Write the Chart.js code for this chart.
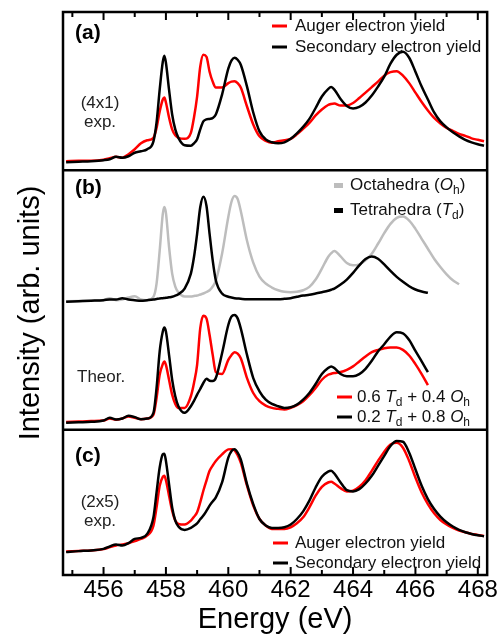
<!DOCTYPE html>
<html>
<head>
<meta charset="utf-8">
<script src="https://cdn.jsdelivr.net/npm/chart.js@4.4.1/dist/chart.umd.min.js"></script>
<style>
  html, body { margin: 0; padding: 0; background: #fff; }
</style>
</head>
<body>
<canvas id="spectra" width="501" height="638"></canvas>
<script>
// photon energy grid (eV), shared by every curve
const energy = [
  454.8, 455.2, 455.6, 456.0, 456.2, 456.4, 456.6, 456.8, 457.0, 457.2,
  457.4, 457.6, 457.7, 457.8, 457.9, 457.95, 458.0, 458.1, 458.2, 458.3,
  458.4, 458.6, 458.8, 458.9, 459.0, 459.1, 459.2, 459.3, 459.4, 459.5,
  459.6, 459.8, 460.0, 460.1, 460.2, 460.3, 460.4, 460.6, 460.8, 461.0,
  461.2, 461.4, 461.6, 461.8, 462.0, 462.2, 462.4, 462.6, 462.8, 463.0,
  463.2, 463.3, 463.4, 463.6, 463.8, 464.0, 464.2, 464.4, 464.6, 464.8,
  465.0, 465.2, 465.4, 465.6, 465.8, 466.0, 466.2, 466.4, 466.6, 466.8,
  467.0, 467.2, 467.4, 467.6, 467.8, 468.0, 468.2
];

// (a) (4x1) experiment
const aSecondary = [
  7, 7.5, 8, 9, 10, 12.5, 11.5, 13, 16.5, 18,
  20, 28, 47, 80, 108, 114, 107, 80, 55, 40,
  31.5, 24, 23.5, 26, 30, 40, 48, 50, 50.5, 51.5,
  55, 75, 101, 109, 112, 110, 105, 83, 57, 38,
  30, 27, 26, 27, 30.5, 36, 42.5, 50.5, 61.5, 73,
  80.5, 82.5, 80, 70.5, 63.5, 61, 62.5, 67, 74, 83,
  93, 106, 115, 118, 112, 98, 83, 70, 57, 48,
  42, 37, 33, 29.5, 27, 25, 23.5
];
const aAuger = [
  8, 8.5, 8.5, 9.5, 11, 12.5, 11.5, 15, 20, 26,
  29, 31.5, 41.5, 58, 70, 72, 67, 52, 40, 34,
  31.5, 30.5, 36.5, 52, 73, 103, 115, 113, 98, 88,
  82, 82, 86.5, 88, 88.5, 86.5, 82, 63, 45, 33,
  28.5, 26.5, 28, 29, 30.5, 35, 40.5, 46.5, 54, 60,
  64.5, 65.5, 66, 64, 64, 66.5, 71.5, 77, 82.5, 88,
  94, 97.5, 98.5, 94, 86.5, 77, 67.5, 59, 51.5, 46,
  41.5, 38.5, 35.5, 33.5, 31, 29.5, 28
];

// (b) theory: single sites (upper) and mixtures (lower)
const bOctahedra = [
  129.3, 129.5, 129.7, 130.5, 132.3, 130.3, 131, 133, 134.3, 131,
  130.3, 133.7, 147, 180, 217, 224, 218, 184, 157, 144,
  138, 134, 134, 134.5, 135, 136, 137, 138.5, 140.3, 144,
  150, 177, 214, 229, 235, 232, 220, 190, 168, 154,
  147, 143, 140.3, 138.7, 138.3, 138.7, 140.3, 143.7, 151, 162,
  173.7, 177.5, 179.7, 174.3, 167.7, 165.3, 166.3, 170.3, 177, 187,
  197.7, 207, 213, 214.3, 210.3, 202, 192, 182, 172, 163.7,
  156.3, 150.3, 146.3
];
const bTetrahedra = [
  128.7, 129.2, 129.7, 130.3, 131, 131, 132.3, 131, 130.3, 129.7,
  130.3, 131, 131.5, 132, 132.3, 132.5, 132.7, 133.2, 133.7, 134.8,
  136.3, 142, 157, 173.7, 197, 223.7, 234.3, 225.3, 197, 170.3,
  150.3, 137, 133.7, 133, 132.3, 132, 131.7, 131.3, 131.3, 131.3,
  131.3, 131.3, 131.3, 131.7, 132.3, 133.7, 135, 135.7, 137, 138.3,
  139.7, 140.8, 142, 146, 151, 157.7, 165.3, 171.7, 174.3, 172,
  166.3, 159.7, 153.7, 148.7, 144.3, 141, 139, 137.7
];
const bMix28 = [
  7, 7.5, 8, 9.3, 12, 10.3, 11.3, 14, 12.7, 10.7,
  11.3, 17, 42, 78.7, 98.7, 102.7, 98.7, 75.3, 50.3, 33.7,
  23.7, 17, 23.7, 29, 35.3, 41, 47, 51.3, 49.3, 49,
  52, 77, 105.3, 113.7, 115.3, 112, 102, 75.3, 52, 38.7,
  30.3, 26, 23.7, 22, 22.7, 25.3, 30.3, 37, 46, 56,
  62, 63.7, 62, 56, 53.7, 53.7, 56, 61.3, 69.3, 78.7,
  86, 93.7, 98, 97, 90.3, 79.3, 68.7, 58
];
const bMix64 = [
  7.7, 8.2, 8.7, 9.3, 11.3, 10, 11.3, 13.3, 12, 10.7,
  11.3, 15.3, 32, 55.3, 66, 68.7, 65.3, 50.3, 35.3, 26,
  22, 22, 33.7, 47, 65.3, 102, 114.7, 112, 95.3, 75.3,
  58, 56, 70.3, 75, 78, 76.5, 72, 52, 37, 28.7,
  24.3, 22, 21, 20.3, 22, 24.7, 28.7, 34.7, 42, 50.3,
  55.3, 56.3, 57, 58, 60.3, 63.7, 68.7, 73.7, 78, 80.3,
  82, 82.7, 82.7, 80.3, 74.7, 66, 56, 45
];

// (c) (2x5) experiment
const cSecondary = [
  23, 24, 24.7, 26.3, 28.7, 30.7, 29.7, 32, 36.3, 37.3,
  41.3, 58, 83, 108, 121.3, 122, 114.7, 91.3, 68, 54.7,
  48.7, 45.3, 47.3, 49.5, 52, 56, 59.7, 64.5, 69.7, 74,
  78, 93, 118, 124.5, 126.3, 123, 116.3, 91.3, 71.3, 56.3,
  49.7, 47.3, 47.3, 48, 50.7, 56.3, 64, 74.7, 88, 98.7,
  104, 104.7, 102, 93, 85.3, 84, 86.3, 92, 99.7, 109.7,
  119.7, 129.7, 134.7, 134, 123, 106.3, 89.7, 76.3, 66.3, 58.7,
  53, 48.7, 45.3, 43, 41.3, 40, 39
];
const cAuger = [
  23.7, 24.2, 24.7, 26, 28, 29.7, 30.7, 32, 34, 36.3,
  39.7, 49.7, 68, 89.7, 98.7, 99.7, 95.3, 79.7, 64.7, 54.7,
  51.3, 50.7, 54.7, 58.5, 63, 73, 84.7, 95, 104.7, 110,
  114.7, 121.3, 126.3, 126.5, 125.3, 120.5, 113, 89.7, 69.7, 56.3,
  49.7, 46.3, 46.3, 46.3, 48, 52, 58, 68, 79.7, 88.7,
  93, 93.7, 92, 87.3, 84, 84.7, 88.7, 95.3, 104.7, 114.7,
  124, 131.3, 133, 128, 114.7, 98, 83, 71.3, 62, 55.3,
  50.7, 47.3, 44.7, 43, 41.3, 40.3, 39.3
];

const RED = '#ff0000';
const BLACK = '#000000';
const GRAY = '#bdbdbd';
const FONT = '"Liberation Sans", Arial, Helvetica, sans-serif';

function series(label, vals, color, axis) {
    return {
        label: label,
        data: vals.map((v, i) => ({x: energy[i], y: v})),
        yAxisID: axis,
        borderColor: color,
        backgroundColor: color,
        borderWidth: 2.5,
        pointRadius: 0,
        cubicInterpolationMode: 'monotone',
        fill: false
    };
}

// draw a run of text pieces: [text, style] with style '', 'i' (italic) or 'sub'
function richText(ctx, x, y, parts, size) {
    let cx = x;
    parts.forEach(([txt, style]) => {
        let fs = size, dy = 0, pre = '';
        if (style === 'i') pre = 'italic ';
        if (style === 'sub') { fs = Math.round(size * 0.68); dy = size * 0.32; }
        ctx.font = pre + fs + 'px ' + FONT;
        ctx.fillText(txt, cx, y + dy);
        cx += ctx.measureText(txt).width;
    });
}

const decorations = {
    id: 'decorations',
    afterDraw(chart) {
        const ctx = chart.ctx;
        const {left, right, top, bottom} = chart.chartArea;
        const sx = chart.scales.x;
        ctx.save();
        ctx.strokeStyle = '#000';
        ctx.lineWidth = 2.5;
        ctx.strokeRect(left, top, right - left, bottom - top);
        [chart.scales.ya.bottom, chart.scales.yb.bottom].forEach(yy => {
            ctx.beginPath(); ctx.moveTo(left, yy); ctx.lineTo(right, yy); ctx.stroke();
        });
        // inward ticks at top and bottom
        ctx.lineWidth = 2;
        sx.ticks.forEach(t => {
            if (!Number.isInteger(t.value)) return;
            const px = sx.getPixelForValue(t.value);
            const len = t.value % 2 === 0 ? 8 : 5;
            ctx.beginPath();
            ctx.moveTo(px, top); ctx.lineTo(px, top + len);
            ctx.moveTo(px, bottom); ctx.lineTo(px, bottom - len);
            ctx.stroke();
        });

        ctx.fillStyle = '#000';
        ctx.textBaseline = 'middle';
        ctx.textAlign = 'left';
        ctx.font = 'bold 21px ' + FONT;
        ctx.fillText('(a)', 75, 33);
        ctx.fillText('(b)', 75, 188);
        ctx.fillText('(c)', 75, 456);

        ctx.fillStyle = '#222';
        ctx.font = '17px ' + FONT;
        ctx.textAlign = 'center';
        ctx.fillText('(4x1)', 100, 103);
        ctx.fillText('exp.', 100, 122);
        ctx.fillText('(2x5)', 100, 502);
        ctx.fillText('exp.', 100, 521);
        ctx.textAlign = 'left';
        ctx.fillText('Theor.', 77, 377);

        const legendLine = (x, y, color) => {
            ctx.strokeStyle = color; ctx.lineWidth = 3;
            ctx.beginPath(); ctx.moveTo(x, y); ctx.lineTo(x + 15, y); ctx.stroke();
        };
        ctx.fillStyle = '#111';
        legendLine(272, 26, RED);
        legendLine(272, 47, BLACK);
        ctx.fillText('Auger electron yield', 295, 26);
        ctx.fillText('Secondary electron yield', 295, 47);

        legendLine(273, 543, RED);
        legendLine(273, 563, BLACK);
        ctx.fillText('Auger electron yield', 295, 543);
        ctx.fillText('Secondary electron yield', 295, 563);

        ctx.fillStyle = GRAY; ctx.fillRect(334, 183, 9, 5);
        ctx.fillStyle = BLACK; ctx.fillRect(334, 208, 9, 5);
        ctx.fillStyle = '#111';
        richText(ctx, 350, 185, [['Octahedra (', ''], ['O', 'i'], ['h', 'sub'], [')', '']], 17);
        richText(ctx, 350, 210, [['Tetrahedra (', ''], ['T', 'i'], ['d', 'sub'], [')', '']], 17);

        legendLine(337, 397, RED);
        legendLine(337, 417, BLACK);
        ctx.fillStyle = '#111';
        richText(ctx, 357, 397, [['0.6 ', ''], ['T', 'i'], ['d', 'sub'], [' + 0.4 ', ''], ['O', 'i'], ['h', 'sub']], 17);
        richText(ctx, 357, 417, [['0.2 ', ''], ['T', 'i'], ['d', 'sub'], [' + 0.8 ', ''], ['O', 'i'], ['h', 'sub']], 17);

        // y axis title
        ctx.fillStyle = '#000';
        ctx.translate(31, 313);
        ctx.rotate(-Math.PI / 2);
        ctx.textAlign = 'center';
        ctx.font = '29px ' + FONT;
        ctx.fillText('Intensity (arb. units)', 0, 0);
        ctx.restore();
    }
};

const hiddenY = (min, max, weight) => ({
    type: 'linear',
    position: 'left',
    stack: 'panels',
    stackWeight: weight,
    min: min,
    max: max,
    grid: {display: false, drawTicks: false},
    border: {display: false},
    ticks: {display: false}
});

new Chart(document.getElementById('spectra'), {
    type: 'line',
    data: {
        datasets: [
            series('Secondary electron yield (a)', aSecondary, BLACK, 'ya'),
            series('Auger electron yield (a)', aAuger, RED, 'ya'),
            series('Tetrahedra', bTetrahedra, BLACK, 'yb'),
            series('Octahedra', bOctahedra, GRAY, 'yb'),
            series('0.2 Td + 0.8 Oh', bMix28, BLACK, 'yb'),
            series('0.6 Td + 0.4 Oh', bMix64, RED, 'yb'),
            series('Secondary electron yield (c)', cSecondary, BLACK, 'yc'),
            series('Auger electron yield (c)', cAuger, RED, 'yc')
        ]
    },
    options: {
        responsive: false,
        animation: false,
        layout: {padding: {left: 63, right: 8, top: 12, bottom: 4}},
        plugins: {legend: {display: false}, tooltip: {enabled: false}},
        scales: {
            x: {
                type: 'linear',
                min: 454.7,
                max: 468.3,
                grid: {display: false, drawTicks: false},
                border: {display: false},
                ticks: {
                    stepSize: 1,
                    autoSkip: false,
                    includeBounds: false,
                    maxRotation: 0,
                    padding: 3,
                    color: '#000',
                    font: {family: FONT, size: 24, lineHeight: 1},
                    callback: v => (v % 2 === 0 ? String(v) : '')
                },
                title: {
                    display: true,
                    text: 'Energy (eV)',
                    color: '#000',
                    padding: 0,
                    font: {family: FONT, size: 29, lineHeight: 1}
                }
            },
            // stacked panels are laid out bottom-up, so (c) comes first
            yc: hiddenY(0, 146, 146),
            yb: hiddenY(0, 261, 261),
            ya: hiddenY(-1, 158, 159)
        }
    },
    plugins: [decorations]
});
</script>
</body>
</html>
